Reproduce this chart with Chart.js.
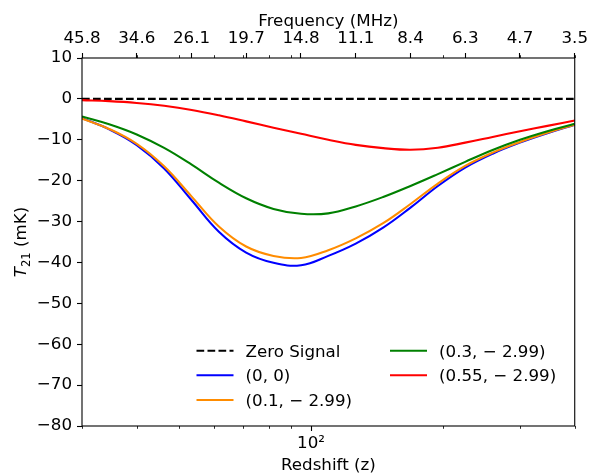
<!DOCTYPE html>
<html><head><meta charset="utf-8">
<script src="https://cdn.jsdelivr.net/npm/chart.js@4.4.1/dist/chart.umd.min.js"></script>
<style>html,body{margin:0;padding:0;background:#fff}canvas{display:block}</style>
</head><body>
<canvas id="c" width="592" height="476" style="width:592px;height:476px"></canvas>
<script>
// ---------------- data ----------------
const redshift   = [30, 34.6, 40.0, 46.2, 53.4, 61.6, 71.1, 82.1, 94.9, 109.5, 126.5, 146.1, 168.7, 194.8, 224.9, 259.8, 300.0, 346.4, 400];
const series_0_0 = [-4.7, -7.45, -11.3, -17.0, -24.8, -32.5, -37.6, -40.1, -40.7, -38.4, -35.4, -31.5, -26.6, -21.3, -16.8, -13.4, -10.7, -8.4, -6.3];
const series_01  = [-4.8, -7.35, -11.0, -16.5, -23.9, -31.2, -36.1, -38.4, -38.9, -37.0, -34.1, -30.4, -25.7, -20.7, -16.4, -13.15, -10.55, -8.3, -6.3];
const series_03  = [-4.3, -6.2, -8.7, -12.0, -16.1, -20.5, -24.3, -26.9, -28.1, -28.0, -26.3, -24.0, -21.3, -18.4, -15.4, -12.5, -10.0, -7.9, -6.1];
const series_055 = [-0.3, -0.55, -1.0, -1.7, -2.7, -4.0, -5.5, -7.05, -8.55, -10.0, -11.25, -12.05, -12.45, -11.95, -10.7, -9.3, -7.9, -6.6, -5.3];
const zeroZ      = [30, 400];
const zeroSignal = [0, 0];

const seriesLabels = ['Zero Signal', '(0, 0)', '(0.1, \u2212 2.99)', '(0.3, \u2212 2.99)', '(0.55, \u2212 2.99)'];
const freqLabels   = ['45.8', '34.6', '26.1', '19.7', '14.8', '11.1', '8.4', '6.3', '4.7', '3.5'];
const bottomMajor  = [100];
const bottomLabels = ['10\u00b2'];
const minorZ       = [30, 40, 50, 60, 70, 80, 90, 200, 300, 400];
const yTitle = ['T', '21', ' (mK)'];
const xTitle = 'Redshift (z)';
const topTitle = 'Frequency (MHz)';

const zMin = 30, zMax = 400;
const topTickZ = freqLabels.map((_, i) => zMin * Math.pow(zMax / zMin, i / (freqLabels.length - 1)));

// ---------------- style ----------------
const FAM = '"DejaVu Sans"';
const FS = 16.7;
const LW = 2.08;
Chart.defaults.color = '#000';
Chart.defaults.font.family = FAM;
Chart.defaults.font.size = FS;

const pts = (xs, ys) => xs.map((x, i) => ({x: x, y: ys[i]}));

const deco = {
  id: 'deco',
  afterDraw(chart) {
    const ctx = chart.ctx, a = chart.chartArea, xs = chart.scales.x;
    ctx.save();
    ctx.strokeStyle = '#000';
    ctx.lineWidth = 0.83;
    minorZ.forEach(z => {
      const px = Math.round(xs.getPixelForValue(z)) + 0.5;
      ctx.beginPath();
      ctx.moveTo(px, a.bottom); ctx.lineTo(px, a.bottom + 2.8);
      ctx.moveTo(px, a.top); ctx.lineTo(px, a.top - 2.8);
      ctx.stroke();
    });
    ctx.lineWidth = 1.1;
    ctx.strokeRect(a.left, a.top, a.right - a.left, a.bottom - a.top);

    // axis titles
    ctx.fillStyle = '#000';
    ctx.font = FS + 'px ' + FAM;
    ctx.textAlign = 'center';
    ctx.textBaseline = 'alphabetic';
    const cx = (a.left + a.right) / 2;
    ctx.fillText(topTitle, cx, 26);
    ctx.fillText(xTitle, cx, 470);

    // y title with italic T and subscript
    ctx.save();
    ctx.translate(26, (a.top + a.bottom) / 2);
    ctx.rotate(-Math.PI / 2);
    const fIt = 'italic ' + FS + 'px ' + FAM, fSub = (FS * 0.7) + 'px ' + FAM, fMain = FS + 'px ' + FAM;
    ctx.font = fIt; const w1 = ctx.measureText(yTitle[0]).width;
    ctx.font = fSub; const w2 = ctx.measureText(yTitle[1]).width;
    ctx.font = fMain; const w3 = ctx.measureText(yTitle[2]).width;
    let x = -(w1 + w2 + w3) / 2;
    ctx.textAlign = 'left';
    ctx.font = fIt; ctx.fillText(yTitle[0], x, 0); x += w1;
    ctx.font = fSub; ctx.fillText(yTitle[1], x, 3.5); x += w2;
    ctx.font = fMain; ctx.fillText(yTitle[2], x, 0);
    ctx.restore();

    // legend (2 columns, column-major, no frame)
    const colX = [196.5, 390], rowY = [350.7, 375.3, 400];
    const ds = chart.data.datasets;
    ctx.font = FS + 'px ' + FAM;
    ctx.textAlign = 'left';
    ds.forEach((d, i) => {
      const col = i < 3 ? 0 : 1, row = i < 3 ? i : i - 3;
      const lx = colX[col], ly = rowY[row];
      ctx.save();
      ctx.strokeStyle = d.borderColor;
      ctx.lineWidth = LW;
      ctx.setLineDash(d.borderDash || []);
      ctx.beginPath(); ctx.moveTo(lx, ly); ctx.lineTo(lx + 37, ly); ctx.stroke();
      ctx.restore();
      ctx.fillStyle = '#000';
      ctx.fillText(d.label, lx + 49, ly + 6);
    });
    ctx.restore();
  }
};

const tickFont = {size: FS, family: FAM};
const gridOpts = {drawOnChartArea: false, tickLength: 5, tickColor: '#000', tickWidth: 1.1, color: '#000'};

new Chart(document.getElementById('c'), {
  type: 'line',
  data: {
    datasets: [
      {label: seriesLabels[0], data: pts(zeroZ, zeroSignal), borderColor: '#000000', borderDash: [7.7, 3.3], order: 5, tension: 0},
      {label: seriesLabels[1], data: pts(redshift, series_0_0), borderColor: '#0000ff', order: 4},
      {label: seriesLabels[2], data: pts(redshift, series_01), borderColor: '#ff8c00', order: 3},
      {label: seriesLabels[3], data: pts(redshift, series_03), borderColor: '#008000', order: 2},
      {label: seriesLabels[4], data: pts(redshift, series_055), borderColor: '#ff0000', order: 1}
    ]
  },
  options: {
    responsive: false,
    animation: false,
    layout: {padding: {left: 0, right: 15, top: 0, bottom: 0}},
    plugins: {legend: {display: false}, tooltip: {enabled: false}},
    elements: {
      point: {radius: 0},
      line: {borderWidth: LW, tension: 0.4, fill: false, capBezierPoints: true}
    },
    scales: {
      x: {
        type: 'logarithmic', position: 'bottom', min: zMin, max: zMax,
        afterFit(s) { s.height = 50; },
        afterBuildTicks(s) { s.ticks = bottomMajor.map(v => ({value: v})); },
        ticks: {callback: (v, i) => bottomLabels[i], autoSkip: false, maxRotation: 0, padding: 3, font: tickFont, color: '#000'},
        grid: gridOpts, border: {display: false}
      },
      xTop: {
        type: 'logarithmic', position: 'top', min: zMin, max: zMax,
        afterFit(s) { s.height = 58; },
        afterBuildTicks(s) { s.ticks = topTickZ.map(v => ({value: v})); },
        ticks: {callback: (v, i) => freqLabels[i], autoSkip: false, maxRotation: 0, padding: 4, font: tickFont, color: '#000'},
        grid: gridOpts, border: {display: false}
      },
      y: {
        type: 'linear', min: -80, max: 10,
        afterFit(s) { s.width = 82; },
        ticks: {stepSize: 10, callback: v => (v < 0 ? '\u2212' + Math.abs(v) : String(v)), padding: 5, font: tickFont, color: '#000'},
        grid: gridOpts, border: {display: false}
      }
    }
  },
  plugins: [deco]
});
</script>
</body></html>
